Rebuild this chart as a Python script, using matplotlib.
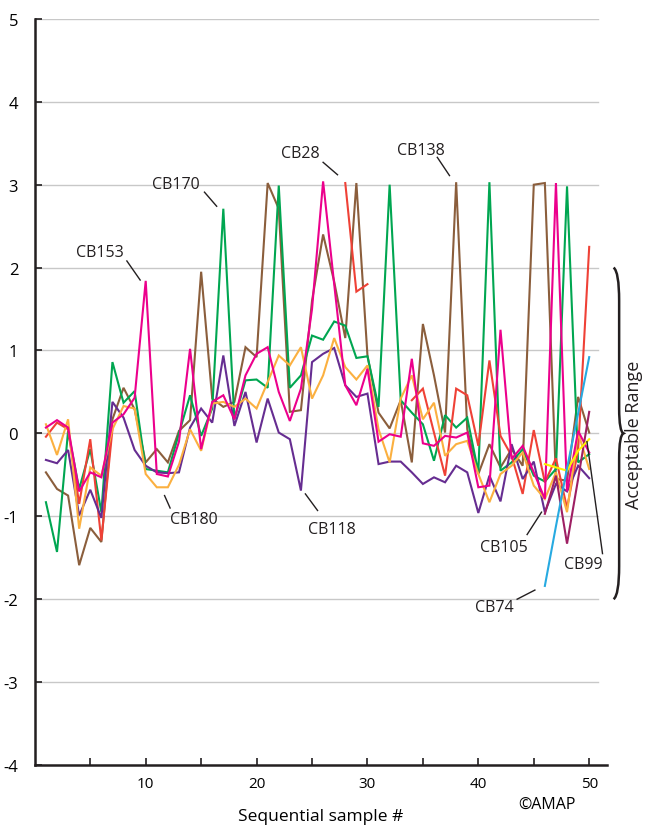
import numpy as np
import matplotlib
matplotlib.use("Agg")
import matplotlib.pyplot as plt
from matplotlib.patches import PathPatch
from matplotlib.path import Path

plt.rcParams['font.family'] = ['Open Sans', 'DejaVu Sans']

nan = np.nan
samples = np.arange(1, 51)

# ---- series values ----
cb170 = [-0.83, -1.43, 0.03, -0.67, -0.19, -0.95, 0.86, 0.37, 0.51, -0.43,
         -0.45, -0.47, 0.0, 0.46, -0.03, 0.30, 2.71, 0.17, 0.64, 0.65,
         0.55, 2.99, 0.55, 0.70, 1.18, 1.13, 1.35, 1.30, 0.91, 0.93,
         0.32, 3.00, 0.40, 0.25, 0.11, -0.33, 0.22, 0.07, 0.19, -0.47,
         3.03, -0.45, -0.35, -0.19, -0.51, -0.58, -0.43, 2.98, -0.35, -0.25]
cb138 = [-0.47, -0.67, -0.75, -1.59, -1.14, -1.31, 0.17, 0.55, 0.29, -0.35,
         -0.19, -0.35, 0.03, 0.16, 1.95, 0.42, 0.32, 0.38, 1.04, 0.92,
         3.02, 2.71, 0.26, 0.28, 1.60, 2.40, 1.83, 1.15, 3.02, 0.94,
         0.25, 0.06, 0.40, -0.35, 1.32, 0.70, 0.01, 3.03, 0.05, -0.49,
         -0.13, -0.41, -0.19, -0.39, 3.00, 3.02, -0.55, -0.57, 0.44, 0.01]
cb153 = [0.07, 0.16, 0.07, -0.70, -0.47, -0.53, 0.13, 0.23, 0.43, 1.84,
         -0.49, -0.52, -0.10, 1.02, -0.19, 0.38, 0.46, 0.17, 0.70, 0.96,
         1.04, 0.50, 0.15, 0.54, 1.50, 3.04, 1.80, 0.58, 0.34, 0.78,
         -0.10, -0.01, -0.04, 0.90, -0.12, -0.15, -0.03, -0.05, 0.01, -0.65,
         -0.63, 1.25, -0.31, -0.15, -0.47, -0.79, 3.02, -0.70, 0.03, -0.23]
cb180 = [0.11, -0.26, 0.17, -1.15, -0.41, -0.51, 0.05, 0.33, 0.30, -0.49,
         -0.65, -0.65, -0.38, 0.05, -0.21, 0.36, 0.38, 0.32, 0.42, 0.30,
         0.62, 0.94, 0.82, 1.04, 0.42, 0.70, 1.15, 0.80, 0.65, 0.82,
         0.05, -0.35, 0.42, 0.70, 0.17, 0.37, -0.27, -0.13, -0.09, -0.49,
         -0.83, -0.49, -0.39, -0.23, -0.63, -0.79, -0.47, -0.95, 0.01, -0.43]
cb118 = [-0.32, -0.36, -0.20, -0.99, -0.68, -1.02, 0.38, 0.19, -0.20, -0.39,
         -0.47, -0.48, -0.47, 0.07, 0.30, 0.13, 0.94, 0.09, 0.50, -0.11,
         0.42, 0.01, -0.07, -0.69, 0.86, 0.96, 1.03, 0.58, 0.44, 0.48,
         -0.37, -0.34, -0.34, -0.47, -0.61, -0.53, -0.59, -0.39, -0.47, -0.96,
         -0.51, -0.82, -0.13, -0.55, -0.34, -0.95, -0.61, -0.70, -0.39, -0.54]
cb28 = [-0.04, 0.13, 0.05, -0.85, -0.07, -1.29, 0.05, nan, nan, nan,
        nan, nan, nan, nan, nan, nan, nan, nan, nan, nan,
        nan, nan, nan, nan, nan, nan, nan, 3.02, 1.71, 1.80,
        nan, nan, nan, 0.40, 0.54, 0.01, -0.51, 0.54, 0.46, -0.15,
        0.88, -0.03, -0.27, -0.73, 0.04, -0.59, -0.30, -0.90, -0.20, 2.25]
cb105 = [nan] * 45 + [-0.97, -0.51, -1.33, -0.55, 0.26]
cb99 = [nan] * 45 + [-0.37, -0.41, -0.45, -0.21, -0.07]
cb74 = [nan] * 45 + [-1.84, -1.12, -0.42, 0.24, 0.92]

series = [
    (cb138, '#8B5E3C'),
    (cb170, '#00A651'),
    (cb28, '#EF4136'),
    (cb118, '#662D91'),
    (cb180, '#FBB040'),
    (cb153, '#EC008C'),
    (cb105, '#9E1F63'),
    (cb99, '#FFF200'),
    (cb74, '#27AAE1'),
]

fig = plt.figure(figsize=(6.45, 8.29), dpi=100)
ax = fig.add_axes([0.054, 0.076, 0.887, 0.9])

for vals, col in series:
    ax.plot(samples, vals, color=col, lw=1.5, solid_joinstyle='miter')

ax.set_xlim(0, 51.6)
ax.set_ylim(-4, 5)
ax.set_yticks(range(-4, 6))
ax.set_yticklabels([str(v) for v in range(-4, 6)], fontsize=12)
ax.set_xticks(range(5, 51, 5))
ax.set_xticklabels(['' if v % 10 else str(v) for v in range(5, 51, 5)], fontsize=11)
ax.tick_params(axis='both', direction='in', length=5, width=1.2, color='#231F20')
ax.tick_params(axis='x', pad=8)
ax.tick_params(axis='y', pad=12)

for v in range(-3, 6):
    ax.axhline(v, color='#C8C8C8', lw=1, zorder=0, xmax=0.985)

for s in ['top', 'right']:
    ax.spines[s].set_visible(False)
for s in ['left', 'bottom']:
    ax.spines[s].set_linewidth(1.8)
    ax.spines[s].set_color('#231F20')

ax.set_xlabel('Sequential sample #', fontsize=12.5, labelpad=12)
fig.text(0.848, 0.024, '\u00a9AMAP', fontsize=11.5, ha='center')

# series labels with short leader lines
labels = [
    ('CB153', 5.9, 2.19, (8.3, 2.08), (9.5, 1.85)),
    ('CB170', 12.7, 3.01, (15.3, 2.91), (16.4, 2.74)),
    ('CB28', 23.9, 3.38, (26.0, 3.27), (27.3, 3.12)),
    ('CB138', 34.8, 3.42, (36.3, 3.33), (37.4, 3.11)),
    ('CB180', 14.3, -1.03, (11.7, -0.75), (12.2, -0.90)),
    ('CB118', 26.8, -1.15, (24.4, -0.73), (25.5, -0.93)),
    ('CB105', 42.3, -1.37, (44.4, -1.22), (45.7, -0.95)),
    ('CB99', 49.5, -1.57, (51.2, -1.45), (49.8, -0.10)),
    ('CB74', 41.4, -2.09, (43.5, -2.00), (45.1, -1.89)),
]
for txt, tx, ty, p0, p1 in labels:
    ax.text(tx, ty, txt, fontsize=11.5, ha='center', va='center', color='#231F20')
    ax.plot([p0[0], p1[0]], [p0[1], p1[1]], color='#231F20', lw=1, clip_on=False)

# brace marking the acceptable range
bx = 52.2
verts = [(bx, 2.0), (bx + 0.5, 1.95), (bx + 0.5, 1.6), (bx + 0.5, 0.3),
         (bx + 0.5, 0.02), (bx + 0.9, 0.0), (bx + 0.5, -0.02), (bx + 0.5, -0.3),
         (bx + 0.5, -1.6), (bx + 0.5, -1.95), (bx, -2.0)]
codes = [Path.MOVETO, Path.CURVE3, Path.CURVE3, Path.LINETO,
         Path.CURVE3, Path.CURVE3, Path.CURVE3, Path.CURVE3,
         Path.LINETO, Path.CURVE3, Path.CURVE3]
ax.add_patch(PathPatch(Path(verts, codes), fill=False, lw=1.8,
                       edgecolor='#231F20', clip_on=False))
ax.text(54.0, 0.0, 'Acceptable Range', rotation=90, fontsize=13,
        ha='center', va='center', color='#231F20', clip_on=False)

fig.savefig('out.png', dpi=100)
